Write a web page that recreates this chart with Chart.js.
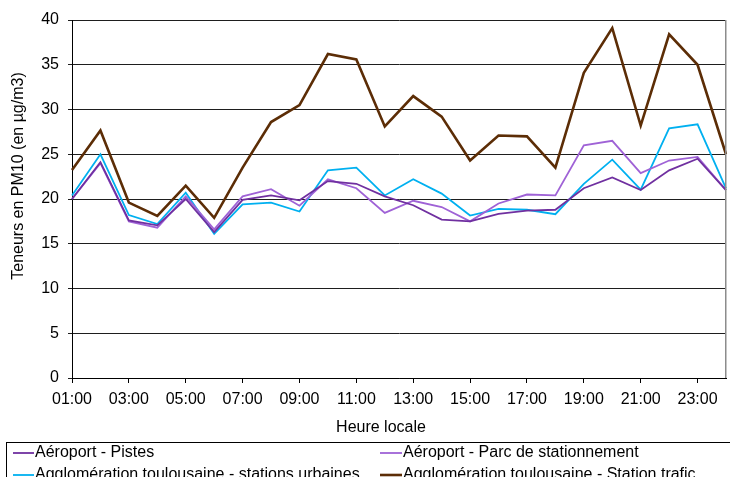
<!DOCTYPE html>
<html>
<head>
<meta charset="utf-8">
<script src="https://cdn.jsdelivr.net/npm/chart.js@4/dist/chart.umd.min.js"></script>
<style>
  html, body { margin: 0; padding: 0; background: #fff; }
  canvas { display: block; }
</style>
</head>
<body>
<canvas id="c" width="730" height="477"></canvas>
<script>
// Hourly mean PM10 concentrations (µg/m3) by local hour
const hours = ['01:00','02:00','03:00','04:00','05:00','06:00','07:00','08:00','09:00','10:00','11:00','12:00',
               '13:00','14:00','15:00','16:00','17:00','18:00','19:00','20:00','21:00','22:00','23:00','24:00'];

const pistes   = [20.0, 24.1, 17.6, 17.05, 20.0, 16.3, 19.9, 20.4, 19.85, 22.0, 21.7, 20.3,
                  19.3, 17.7, 17.5, 18.35, 18.7, 18.8, 21.2, 22.4, 21.0, 23.2, 24.5, 21.0];
const parc     = [20.0, 24.0, 17.5, 16.8, 20.3, 16.6, 20.3, 21.1, 19.25, 22.2, 21.2, 18.45,
                  19.8, 19.1, 17.5, 19.5, 20.5, 20.4, 26.0, 26.5, 22.9, 24.3, 24.7, 21.0];
const urbaines = [20.4, 25.0, 18.2, 17.2, 20.7, 16.1, 19.4, 19.6, 18.6, 23.2, 23.5, 20.4,
                  22.2, 20.6, 18.15, 18.9, 18.8, 18.3, 21.7, 24.4, 21.05, 27.9, 28.35, 21.2];
const trafic   = [23.25, 27.65, 19.6, 18.1, 21.5, 17.9, 23.5, 28.6, 30.5, 36.2, 35.6, 28.1,
                  31.5, 29.2, 24.3, 27.1, 27.0, 23.5, 34.1, 39.1, 28.2, 38.4, 35.0, 25.0];

const seriesNames = ['Aéroport - Pistes', 'Aéroport - Parc de stationnement',
                     'Agglomération toulousaine - stations urbaines', 'Agglomération toulousaine - Station trafic'];
const yTitle = 'Teneurs en PM10 (en µg/m3)';
const xTitle = 'Heure locale';

const FONT = "'Liberation Sans', Arial, sans-serif";
Chart.defaults.font.family = FONT;
Chart.defaults.font.size = 16;
Chart.defaults.color = '#000';

// Axis titles, plot frame and the boxed two-column legend
const decorations = {
  id: 'decorations',
  afterDraw(chart) {
    const ctx = chart.ctx;
    const a = chart.chartArea;
    ctx.save();

    // right edge of the plot area
    ctx.strokeStyle = '#8c8c8c';
    ctx.lineWidth = 1.5;
    ctx.beginPath();
    ctx.moveTo(Math.round(a.right) - 0.25, a.top);
    ctx.lineTo(Math.round(a.right) - 0.25, a.bottom);
    ctx.stroke();

    ctx.fillStyle = '#000';
    ctx.font = '16px ' + FONT;
    ctx.textBaseline = 'middle';
    ctx.textAlign = 'center';

    // y axis title
    ctx.save();
    ctx.translate(19, 176);
    ctx.rotate(-Math.PI / 2);
    ctx.fillText(yTitle, 0, 0);
    ctx.restore();

    // x axis title
    ctx.fillText(xTitle, 381, 428);

    // legend frame
    ctx.strokeStyle = '#000';
    ctx.lineWidth = 1;
    ctx.strokeRect(6.5, 442.5, 800, 100);

    // legend entries
    const cols = [{ x0: 13, x1: 34 }, { x0: 380, x1: 402 }];
    const rows = [453, 475];
    ctx.textAlign = 'left';
    chart.data.datasets.forEach((ds, i) => {
      const c = cols[i % 2];
      const y = rows[Math.floor(i / 2)];
      ctx.strokeStyle = ds.borderColor;
      ctx.lineWidth = ds.borderWidth;
      ctx.beginPath();
      ctx.moveTo(c.x0, y);
      ctx.lineTo(c.x1, y);
      ctx.stroke();
      ctx.fillText(ds.label, c.x1 + 1, y);
    });
    ctx.restore();
  }
};

new Chart(document.getElementById('c'), {
  type: 'line',
  data: {
    labels: hours,
    datasets: [
      { label: seriesNames[0], data: pistes,   borderColor: '#7030A0', borderWidth: 1.8 },
      { label: seriesNames[1], data: parc,     borderColor: '#9F62D6', borderWidth: 1.8 },
      { label: seriesNames[2], data: urbaines, borderColor: '#00B0F0', borderWidth: 1.8 },
      { label: seriesNames[3], data: trafic,   borderColor: '#5C2D06', borderWidth: 2.6 }
    ].map(d => Object.assign(d, { pointRadius: 0, pointHoverRadius: 0, tension: 0, fill: false }))
  },
  options: {
    responsive: false,
    animation: false,
    events: [],
    layout: { padding: { left: 0, right: 4, top: 20, bottom: 69 } },
    plugins: {
      legend: { display: false },
      tooltip: { enabled: false },
      title: { display: false }
    },
    scales: {
      x: {
        type: 'category',
        offset: false,
        afterFit(scale) { scale.height = 30; },
        grid: { drawOnChartArea: false, drawTicks: true, tickLength: 5, color: '#000' },
        border: { color: '#000', width: 1 },
        ticks: {
          autoSkip: false,
          maxRotation: 0,
          padding: 7,
          callback(value, index) { return index % 2 === 0 ? hours[index] : null; }
        }
      },
      y: {
        min: 0,
        max: 40,
        afterFit(scale) { scale.width = 72; },
        grid: { color: '#1e1e1e', lineWidth: 1, drawTicks: true, tickLength: 4 },
        border: { color: '#000', width: 1 },
        ticks: { stepSize: 5, padding: 9 }
      }
    }
  },
  plugins: [decorations]
});
</script>
</body>
</html>
